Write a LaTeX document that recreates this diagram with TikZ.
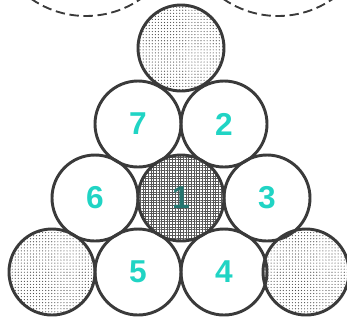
\documentclass[tikz,border=0pt]{standalone}
\usepackage{fontspec}
\setmainfont{Liberation Sans}
\usetikzlibrary{patterns.meta}
\definecolor{edge}{RGB}{58,58,58}
\definecolor{turq}{RGB}{32,212,196}
\definecolor{darkturq}{RGB}{36,118,112}
\tikzset{
  ball/.style={circle, draw=edge, line width=2.5pt, minimum size=25.8mm, inner sep=0pt,
    font=\fontsize{27}{30}\selectfont\bfseries, text=turq},
  dotted ball/.style={ball, pattern={Dots[distance=2.6pt, radius=0.5pt]}, pattern color=edge!90},
  hatched ball/.style={ball, pattern={Hatch[distance=2.3pt, line width=0.45pt]}, pattern color=edge!85, text=darkturq},
  dasharc/.style={draw=edge, line width=1.6pt, dash pattern=on 8pt off 4pt}
}
\begin{document}
\begin{tikzpicture}[x=0.3mm, y=-0.3mm]
\useasboundingbox (0,0) rectangle (347,324);
\clip (0,0) rectangle (347,324);
% dashed arcs at the top
\draw[dasharc] (86,-80) circle[radius=28.8mm];
\draw[dasharc] (278,-80) circle[radius=28.8mm];
% circles
\node[dotted ball] (top) at (181,48) {};
\node[ball] (c7) at (138,124) {7};
\node[ball] (c2) at (224,124) {2};
\node[ball] (c6) at (95,198) {6};
\node[hatched ball] (c1) at (181,198) {1};
\node[ball] (c3) at (267,198) {3};
\node[dotted ball] (bl) at (52,272) {};
\node[ball] (c5) at (138,272) {5};
\node[ball] (c4) at (224,272) {4};
\node[dotted ball] (br) at (306,272) {};
\end{tikzpicture}
\end{document}
